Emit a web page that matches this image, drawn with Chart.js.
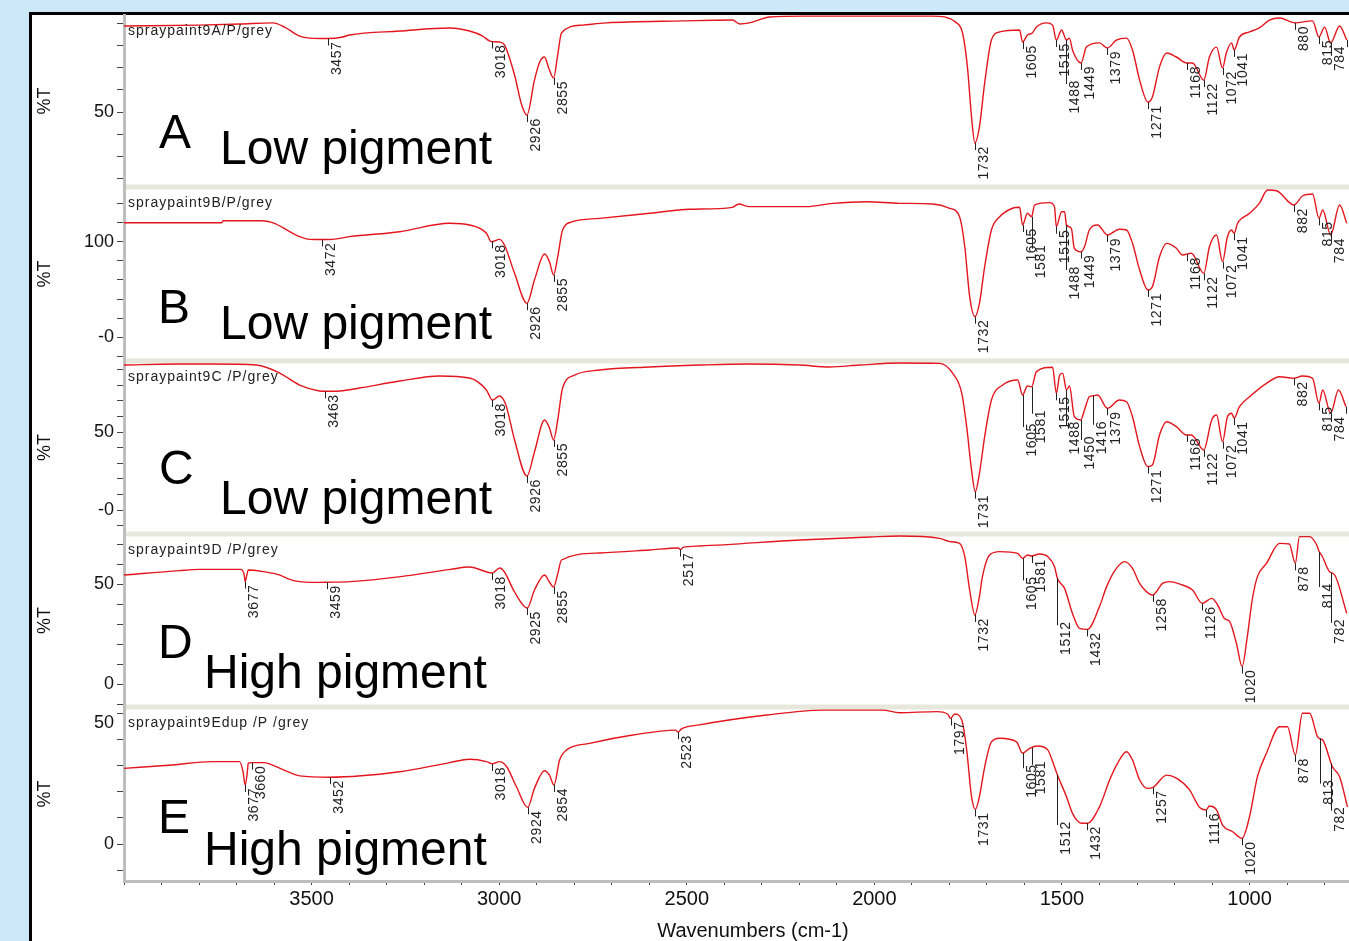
<!DOCTYPE html>
<html>
<head>
  <title>Spray paint FTIR spectra</title>
  <script src="https://cdn.jsdelivr.net/npm/chart.js"></script>
  <style>
    html, body {
      margin: 0;
      padding: 0;
      overflow: hidden;
      background-color: #cde8f9;
    }
    .frame {
      position: absolute;
      left: 29px;
      top: 12px;
      width: 1400px;
      height: 1000px;
      background-color: white;
      border-left: 3px solid #000;
      border-top: 3px solid #000;
    }
    .wrap {
      position: absolute;
      left: 0;
      top: 0;
    }
  </style>
</head>
<body>
  <div class="frame"></div>
  <div class="wrap"><canvas id="ftir" width="1382" height="941"></canvas></div>
  <script>
    // spectra: wavenumber (cm-1) and %T for each sample
    const waveA = [4000, 3800, 3690, 3604, 3572, 3532, 3505, 3457, 3417, 3399, 3265, 3132, 3079, 3044, 3026, 3018, 2999, 2986, 2959, 2940, 2926, 2906, 2892, 2879, 2868, 2855, 2844, 2834, 2778, 2714, 2511, 2378, 2359, 2333, 2279, 2191, 1933, 1845, 1781, 1765, 1752, 1741, 1732, 1720, 1706, 1688, 1666, 1613, 1605, 1592, 1579, 1568, 1541, 1525, 1515, 1501, 1488, 1480, 1472, 1449, 1435, 1400, 1379, 1355, 1328, 1312, 1293, 1271, 1259, 1240, 1221, 1195, 1168, 1152, 1122, 1107, 1088, 1072, 1062, 1048, 1041, 1027, 1000, 974, 947, 920, 880, 832, 815, 800, 784, 760, 741];
    const tA = [89.1, 89.5, 90.0, 90.5, 88.6, 84.5, 83.6, 83.4, 84.1, 85.0, 86.8, 88.2, 86.8, 84.5, 82.3, 82.0, 81.8, 80.5, 66.8, 53.2, 48.6, 64.5, 72.7, 75.0, 70.0, 65.5, 76.0, 85.9, 89.5, 90.5, 91.4, 91.8, 90.0, 90.5, 93.2, 93.6, 93.6, 93.6, 90.5, 85.9, 70.5, 47.7, 35.9, 43.2, 63.2, 82.7, 86.4, 87.3, 81.8, 85.0, 85.9, 88.6, 90.5, 89.5, 82.7, 87.3, 82.7, 83.6, 78.2, 72.3, 79.5, 81.4, 79.1, 82.7, 83.6, 78.2, 64.5, 54.5, 56.8, 70.5, 76.8, 75.0, 72.3, 72.3, 64.5, 75.0, 79.5, 70.0, 76.8, 81.4, 78.2, 84.1, 86.4, 88.2, 91.8, 92.7, 90.5, 91.4, 84.1, 88.6, 81.4, 89.1, 82.7];

    const waveB = [4000, 3740, 3735, 3633, 3604, 3532, 3505, 3472, 3444, 3399, 3265, 3132, 3079, 3034, 3021, 2999, 2986, 2959, 2926, 2906, 2879, 2866, 2855, 2844, 2831, 2804, 2732, 2599, 2492, 2378, 2362, 2333, 2181, 2111, 2021, 1933, 1845, 1799, 1773, 1759, 1746, 1732, 1720, 1706, 1688, 1666, 1632, 1613, 1605, 1592, 1581, 1573, 1533, 1520, 1515, 1501, 1493, 1488, 1475, 1467, 1449, 1440, 1427, 1405, 1379, 1347, 1328, 1312, 1293, 1271, 1259, 1240, 1221, 1195, 1179, 1155, 1122, 1107, 1088, 1072, 1059, 1048, 1041, 1032, 1000, 974, 952, 928, 882, 859, 832, 815, 805, 784, 760, 741];
    const tB = [120.3, 120.3, 122.4, 122.4, 120.3, 105.6, 102.8, 102.6, 102.8, 105.6, 110.8, 119.7, 117.9, 109.2, 100.3, 102.8, 96.8, 67.0, 35.5, 60.0, 87.4, 79.3, 65.3, 84.5, 112.6, 121.4, 124.9, 130.2, 134.4, 136.5, 140.0, 137.2, 137.2, 140.7, 142.4, 140.7, 140.0, 135.5, 126.6, 95.0, 42.4, 21.4, 35.5, 74.0, 112.6, 126.6, 135.5, 136.5, 117.9, 130.2, 126.6, 138.9, 141.4, 137.2, 116.1, 131.9, 131.9, 117.9, 114.4, 93.4, 89.8, 95.0, 112.6, 117.9, 107.4, 113.4, 112.6, 98.6, 70.5, 49.5, 52.9, 84.5, 98.6, 93.4, 86.3, 88.1, 67.0, 95.0, 107.4, 79.3, 105.6, 112.6, 109.2, 119.7, 130.2, 140.7, 154.7, 154.0, 138.9, 148.4, 150.5, 124.9, 133.7, 107.4, 138.9, 119.7];

    const waveC = [4000, 3860, 3764, 3647, 3585, 3532, 3479, 3463, 3425, 3372, 3265, 3159, 3079, 3034, 3018, 2999, 2983, 2959, 2926, 2906, 2879, 2866, 2855, 2844, 2831, 2799, 2732, 2599, 2466, 2333, 2199, 2119, 2040, 1933, 1826, 1791, 1767, 1754, 1741, 1731, 1720, 1706, 1688, 1658, 1618, 1605, 1592, 1581, 1568, 1525, 1515, 1506, 1498, 1488, 1480, 1467, 1450, 1440, 1427, 1416, 1405, 1379, 1347, 1328, 1312, 1293, 1271, 1259, 1240, 1221, 1195, 1168, 1155, 1122, 1101, 1088, 1072, 1059, 1048, 1041, 1027, 1000, 955, 920, 882, 859, 832, 815, 805, 784, 763, 743];
    const tC = [92.9, 93.6, 93.6, 92.9, 87.8, 80.1, 76.3, 76.1, 76.3, 78.2, 82.7, 85.9, 84.6, 76.9, 70.5, 73.1, 67.9, 44.9, 21.8, 37.2, 57.7, 52.6, 44.9, 57.7, 78.2, 86.5, 89.7, 91.7, 92.9, 93.6, 92.9, 91.7, 92.9, 94.2, 94.0, 87.6, 74.8, 53.4, 25.6, 11.7, 23.5, 47.0, 70.5, 80.1, 83.3, 73.7, 79.5, 79.0, 88.7, 91.5, 74.8, 86.5, 87.6, 76.9, 79.5, 59.8, 57.7, 64.1, 72.6, 73.2, 73.7, 65.2, 70.5, 69.4, 59.8, 40.6, 27.8, 28.8, 48.1, 56.6, 53.4, 48.1, 48.1, 38.5, 57.7, 60.9, 43.8, 59.8, 62.0, 58.8, 66.2, 72.6, 81.2, 85.4, 84.4, 85.9, 84.4, 68.4, 76.9, 62.0, 76.9, 66.2];

    const waveD = [4000, 3853, 3800, 3690, 3680, 3677, 3672, 3669, 3629, 3591, 3548, 3503, 3459, 3396, 3263, 3130, 3079, 3018, 2999, 2986, 2959, 2925, 2906, 2879, 2866, 2855, 2844, 2834, 2732, 2600, 2523, 2517, 2510, 2465, 2199, 2012, 1933, 1826, 1799, 1773, 1759, 1746, 1732, 1720, 1712, 1693, 1666, 1618, 1605, 1592, 1581, 1560, 1538, 1520, 1512, 1493, 1472, 1453, 1432, 1400, 1381, 1355, 1333, 1312, 1293, 1275, 1258, 1232, 1213, 1179, 1152, 1126, 1101, 1085, 1067, 1053, 1035, 1020, 1006, 993, 979, 955, 920, 894, 878, 867, 840, 821, 814, 808, 787, 773, 741];
    const tD = [54.5, 56.7, 57.3, 57.3, 55.0, 51.2, 55.0, 57.0, 56.2, 54.8, 51.7, 50.8, 50.9, 51.2, 53.7, 57.3, 58.5, 55.5, 58.0, 56.0, 46.0, 38.0, 47.0, 54.5, 51.0, 48.5, 55.0, 62.0, 65.5, 67.0, 68.0, 67.2, 68.3, 69.0, 72.0, 73.5, 74.0, 72.8, 71.2, 70.3, 63.7, 47.0, 34.5, 43.7, 53.7, 64.5, 66.2, 65.3, 62.8, 64.5, 64.0, 65.0, 63.7, 58.7, 52.8, 47.8, 35.3, 27.8, 27.3, 38.7, 48.7, 57.8, 61.2, 57.8, 50.3, 46.2, 44.5, 50.3, 51.2, 49.5, 47.0, 40.3, 42.8, 39.5, 32.8, 31.2, 20.3, 8.7, 23.7, 42.0, 53.7, 60.3, 70.3, 70.0, 60.3, 73.7, 73.7, 69.5, 66.0, 64.5, 56.2, 54.5, 35.3];

    const waveE = [4000, 3872, 3765, 3692, 3683, 3677, 3671, 3669, 3660, 3629, 3575, 3532, 3452, 3265, 3132, 3079, 3034, 3018, 2999, 2980, 2954, 2924, 2906, 2879, 2866, 2854, 2839, 2820, 2759, 2644, 2530, 2523, 2515, 2466, 2287, 2138, 1978, 1933, 1834, 1805, 1797, 1786, 1767, 1754, 1741, 1731, 1720, 1706, 1688, 1666, 1621, 1605, 1586, 1565, 1538, 1520, 1512, 1488, 1472, 1448, 1432, 1400, 1373, 1352, 1328, 1312, 1293, 1272, 1257, 1221, 1195, 1160, 1133, 1116, 1107, 1088, 1072, 1045, 1020, 1000, 979, 955, 920, 899, 878, 859, 840, 819, 813, 805, 779, 760, 739];
    const tE = [29.1, 30.4, 31.7, 31.7, 28.0, 22.7, 28.0, 31.0, 31.3, 31.3, 28.5, 26.2, 25.7, 27.8, 31.3, 32.6, 31.7, 30.8, 31.7, 29.7, 22.0, 14.1, 21.4, 28.2, 26.5, 22.7, 32.3, 36.2, 38.7, 41.9, 43.8, 43.0, 44.2, 45.8, 49.6, 51.5, 51.5, 50.5, 50.9, 50.0, 48.3, 50.0, 47.7, 36.2, 18.2, 13.3, 18.2, 29.7, 39.3, 40.7, 39.3, 34.9, 36.8, 37.7, 36.2, 29.7, 26.5, 18.2, 11.8, 8.0, 8.0, 14.3, 24.6, 31.0, 35.5, 32.3, 24.6, 21.4, 21.8, 26.5, 25.3, 20.8, 14.0, 13.1, 14.6, 13.1, 7.3, 4.7, 2.2, 10.5, 25.9, 34.9, 45.1, 45.1, 34.2, 50.3, 50.3, 41.3, 40.5, 40.0, 29.7, 25.9, 14.3];

    // labelled peaks (cm-1)
    const peaksA = [3457, 3018, 2926, 2855, 1732, 1605, 1515, 1488, 1449, 1379, 1271, 1168, 1122, 1072, 1041, 880, 815, 784, 741];
    const peaksB = [3472, 3018, 2926, 2855, 1732, 1605, 1581, 1515, 1488, 1449, 1379, 1271, 1168, 1122, 1072, 1041, 882, 815, 784];
    const peaksC = [3463, 3018, 2926, 2855, 1731, 1605, 1581, 1515, 1488, 1450, 1416, 1379, 1271, 1168, 1122, 1072, 1041, 882, 815, 784, 743];
    const peaksD = [3677, 3459, 3018, 2925, 2855, 2517, 1732, 1605, 1581, 1512, 1432, 1258, 1126, 1020, 878, 814, 782];
    const peaksE = [3677, 3660, 3452, 3018, 2924, 2854, 2523, 1797, 1731, 1605, 1581, 1512, 1432, 1257, 1116, 1020, 878, 813, 782];

    const sampleNames = ['spraypaint9A/P/grey', 'spraypaint9B/P/grey', 'spraypaint9C /P/grey', 'spraypaint9D /P/grey', 'spraypaint9Edup /P /grey'];
    const letters = ['A', 'B', 'C', 'D', 'E'];
    const captions = ['Low pigment', 'Low pigment', 'Low pigment', 'High pigment', 'High pigment'];

    // axis ticks
    const xMajor = [3500, 3000, 2500, 2000, 1500, 1000];
    const yTicksA = [20, 30, 40, 50, 60, 70, 80, 90];
    const yTicksB = [-20, 0, 20, 40, 60, 80, 100, 120, 140];
    const yTicksC = [-10, 0, 10, 20, 30, 40, 50, 60, 70, 80, 90];
    const yTicksD = [-10, 0, 10, 20, 30, 40, 50, 60, 70];
    const yTicksE = [-10, 0, 10, 20, 30, 40, 50];
    const yTextA = { 50: '50' };
    const yTextB = { 100: '100', 0: '-0' };
    const yTextC = { 50: '50', 0: '-0' };
    const yTextD = { 50: '50', 0: '0' };
    const yTextE = { 0: '0' };   // its "50" sits lower, drawn by the plugin

    const FONT = "'Liberation Sans', Arial, sans-serif";
    const RED = '#e3161d';

    // panel geometry: y range, stack height, text offsets from the panel top
    const panels = [
      { id: 'yA', wave: waveA, t: tA, peaks: peaksA, ticks: yTicksA, text: yTextA, min: 15.91, max: 94.09, h: 172, letterX: 159, letterY: 133, capX: 220, capY: 149 },
      { id: 'yB', wave: waveB, t: tB, peaks: peaksB, ticks: yTicksB, text: yTextB, min: -25.26, max: 157.89, h: 174, letterX: 158, letterY: 136, capX: 220, capY: 152 },
      { id: 'yC', wave: waveC, t: tC, peaks: peaksC, ticks: yTicksC, text: yTextC, min: -15.38, max: 95.51, h: 173, letterX: 159, letterY: 123, capX: 220, capY: 153 },
      { id: 'yD', wave: waveD, t: tD, peaks: peaksD, ticks: yTicksD, text: yTextD, min: -11.5, max: 75, h: 173, letterX: 158, letterY: 124, capX: 204, capY: 154 },
      { id: 'yE', wave: waveE, t: tE, peaks: peaksE, ticks: yTicksE, text: yTextE, min: -14.23, max: 52.69, h: 174, letterX: 158, letterY: 126, capX: 204, capY: 158 }
    ];

    // extra drop (px) for labels that hang on a long leader line
    const leaderDrop = [
      { 1488: 37 },
      { 1581: 25, 1488: 38 },
      { 1605: 25, 1581: 20, 1488: 28, 1450: 13, 1416: 22 },
      { 1605: 15, 1512: 40, 814: 28, 782: 43 },
      { 1605: 8, 1581: 10, 1512: 43, 813: 38, 782: 40 }
    ];

    function valueAt(wave, t, w) {
      for (let i = 0; i < wave.length - 1; i++) {
        if (wave[i] >= w && wave[i + 1] <= w) {
          const f = (wave[i] - w) / (wave[i] - wave[i + 1]);
          return t[i] + f * (t[i + 1] - t[i]);
        }
      }
      return t[t.length - 1];
    }

    const xTicks = [];
    for (let v = 4000; v >= 700; v -= 100) xTicks.push(v);

    const scales = {
      x: {
        type: 'linear',
        position: 'bottom',
        reverse: true,
        min: 647,
        max: 4000,
        afterFit: s => { s.height = 60; },
        afterBuildTicks: s => { s.ticks = xTicks.map(v => ({ value: v })); },
        ticks: {
          autoSkip: false,
          maxRotation: 0,
          padding: 2,
          color: '#111',
          font: { family: FONT, size: 20 },
          callback: v => xMajor.includes(v) ? String(v) : ''
        },
        grid: { drawOnChartArea: false, tickLength: 4, tickColor: '#444' },
        border: { color: '#bdbdbd', width: 3 },
        title: {
          display: true,
          text: 'Wavenumbers (cm-1)',
          color: '#111',
          font: { family: FONT, size: 20, lineHeight: 1 },
          padding: { top: 0, bottom: 0 }
        }
      }
    };

    panels.forEach((p, i) => {
      scales[p.id] = {
        type: 'linear',
        position: 'left',
        stack: 'ftir',
        stackWeight: p.h,
        weight: 5 - i,
        min: p.min,
        max: p.max,
        afterFit: s => { s.width = 124; },
        afterBuildTicks: s => { s.ticks = p.ticks.map(v => ({ value: v })); },
        ticks: {
          autoSkip: false,
          padding: 3,
          color: '#111',
          font: { family: FONT, size: 18 },
          callback: v => p.text[v] || ''
        },
        grid: { drawOnChartArea: false, tickLength: 7, tickColor: '#444' },
        border: { color: '#bdbdbd', width: 3 },
        title: {
          display: true,
          text: '%T',
          color: '#111',
          font: { family: FONT, size: 18, lineHeight: 1 },
          padding: { top: 36, bottom: 0 }
        }
      };
    });

    const datasets = panels.map(p => ({
      data: p.wave.map((w, i) => ({ x: w, y: p.t[i] })),
      yAxisID: p.id,
      borderColor: RED,
      borderWidth: 1.4,
      pointRadius: 0,
      cubicInterpolationMode: 'monotone',
      fill: false
    }));

    const decorations = {
      id: 'decorations',
      beforeDatasetsDraw(chart) {
        const ctx = chart.ctx;
        const area = chart.chartArea;
        ctx.save();
        ctx.fillStyle = '#e7e7dc';
        panels.slice(1).forEach(p => {
          const top = chart.scales[p.id].top;
          ctx.fillRect(area.left + 2, top - 2.5, area.right - area.left, 5);
        });
        ctx.restore();
      },
      afterDatasetsDraw(chart) {
        const ctx = chart.ctx;
        const xs = chart.scales.x;
        ctx.save();

        // the "50" of the bottom panel is printed a little below its tick
        const yE = chart.scales.yE;
        ctx.fillStyle = '#111';
        ctx.font = '18px ' + FONT;
        ctx.textAlign = 'right';
        ctx.textBaseline = 'middle';
        ctx.fillText('50', yE.right - 10, yE.getPixelForValue(50) + 9);

        panels.forEach((p, i) => {
          const ys = chart.scales[p.id];
          const top = ys.top;

          ctx.fillStyle = '#222';
          ctx.font = '14px ' + FONT;
          ctx.letterSpacing = '1px';
          ctx.textAlign = 'left';
          ctx.textBaseline = 'middle';
          ctx.fillText(sampleNames[i], 128, top + 16.5);

          ctx.fillStyle = '#000';
          ctx.letterSpacing = '0px';
          ctx.textBaseline = 'alphabetic';
          ctx.font = '48px ' + FONT;
          ctx.fillText(letters[i], p.letterX, top + p.letterY);
          ctx.fillText(captions[i], p.capX, top + p.capY);

          ctx.font = '14px ' + FONT;
          ctx.letterSpacing = '0.6px';
          ctx.strokeStyle = '#222';
          ctx.lineWidth = 1;
          p.peaks.forEach(w => {
            const px = Math.round(xs.getPixelForValue(w)) + 0.5;
            const cy = ys.getPixelForValue(valueAt(p.wave, p.t, w));
            const drop = leaderDrop[i][w] || 0;
            const labelTop = cy + 3 + drop;
            ctx.beginPath();
            ctx.moveTo(px, cy);
            ctx.lineTo(px, labelTop + 4);
            ctx.stroke();
            ctx.save();
            ctx.translate(px + 1.5, labelTop);
            ctx.rotate(-Math.PI / 2);
            ctx.textAlign = 'right';
            ctx.textBaseline = 'top';
            ctx.fillStyle = '#222';
            ctx.fillText(String(w), 0, 0);
            ctx.restore();
          });
        });
        ctx.restore();
      }
    };

    new Chart(document.getElementById('ftir'), {
      type: 'line',
      data: { datasets: datasets },
      options: {
        responsive: false,
        animation: false,
        devicePixelRatio: 1,
        layout: { padding: { top: 15, left: 0, right: 0, bottom: 0 } },
        plugins: {
          legend: { display: false },
          tooltip: { enabled: false }
        },
        scales: scales
      },
      plugins: [decorations]
    });
  </script>
</body>
</html>
